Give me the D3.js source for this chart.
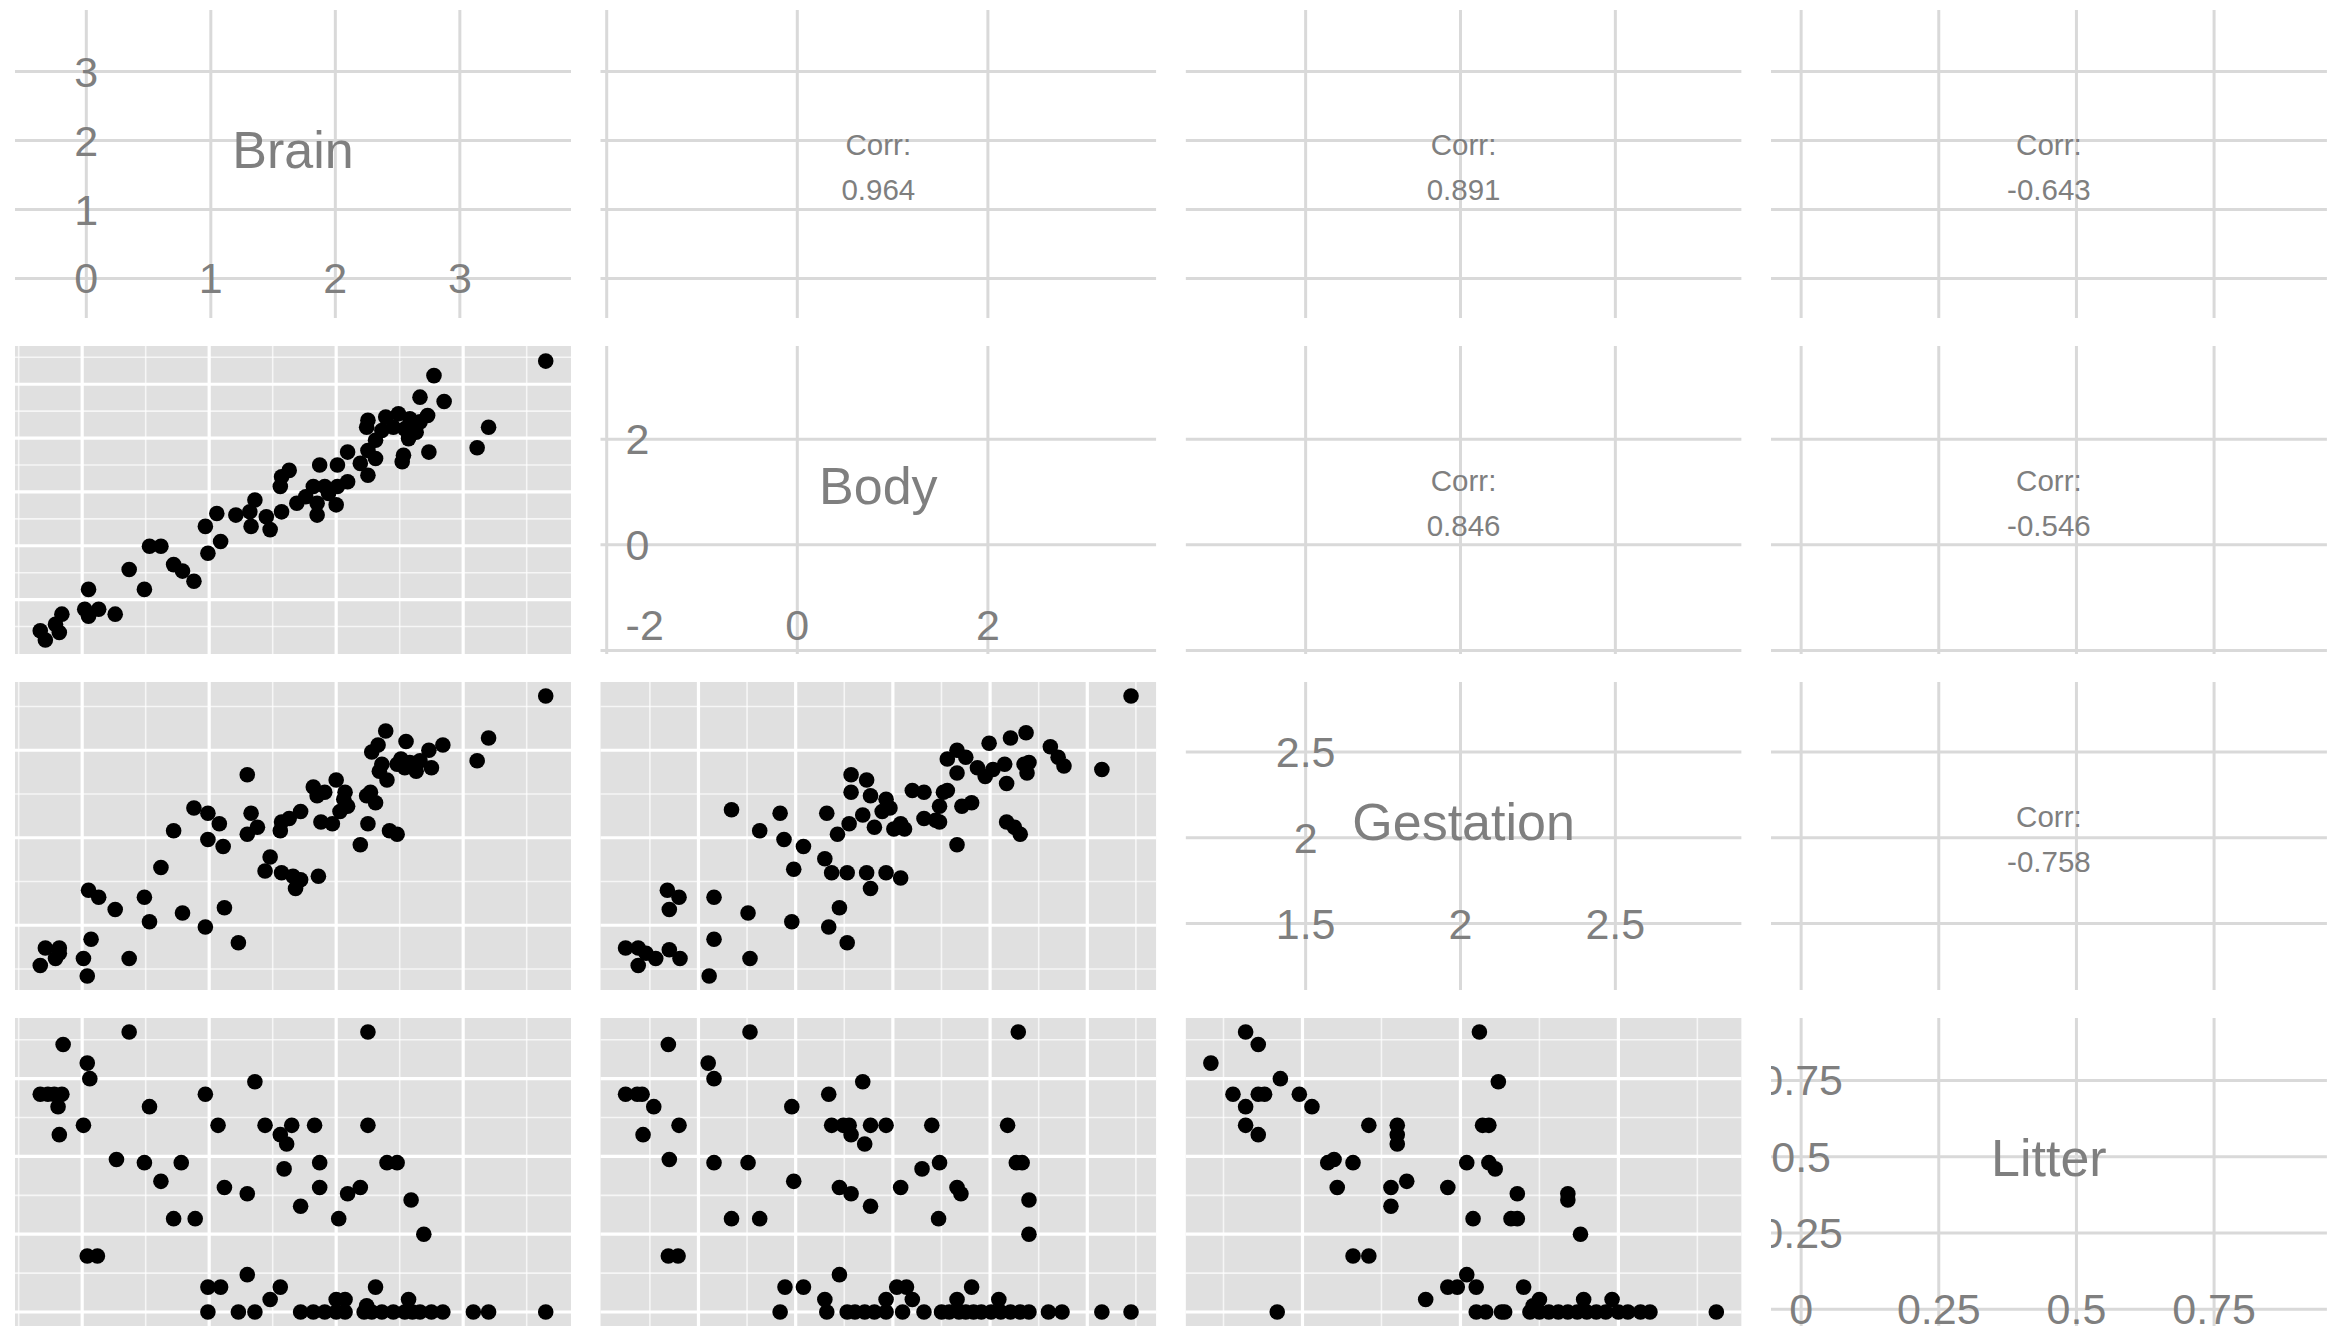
<!DOCTYPE html>
<html lang="en">
<head>
  <title>Mammal pairs</title>
  <meta charset="UTF-8">
  <style>
    body {
      margin: 0;
      background: #fff;
      font-family: "Liberation Sans", Arial, sans-serif;
    }
  </style>
  <script src="https://cdn.jsdelivr.net/npm/d3@7"></script>
</head>
<body>
<script>
  var vars = ["Brain", "Body", "Gestation", "Litter"];

  // upper triangle, row by row: Brain-Body, Brain-Gestation, Brain-Litter, Body-Gestation, Body-Litter, Gestation-Litter
  var corrValues = [0.964, 0.891, -0.643, 0.846, -0.546, -0.758];

  // breaks used on the diagonal / correlation panels and on the scatter panels
  var diagTicks = [[0, 1, 2, 3], [-2, 0, 2], [1.5, 2, 2.5], [0, 0.25, 0.5, 0.75]];
  var scatterTicks = [[0, 1, 2, 3], [-1, 0, 1, 2, 3], [1.5, 2, 2.5], [0, 0.25, 0.5, 0.75]];

  // [x, y] pairs, log10 units
  var brainBody = [[3.65,3.43],[2.77,3.16],[2.66,2.76],[2.85,2.68],[3.20,2.20],[3.11,1.82],[2.73,1.74],[2.53,1.68],[2.52,1.56],[2.25,2.33],[2.24,2.20],[2.39,2.39],[2.49,2.45],[2.58,2.36],[2.66,2.30],[2.72,2.42],[2.45,2.20],[2.54,2.17],[2.63,2.11],[2.57,1.99],[2.36,2.14],[2.31,1.96],[2.25,1.77],[2.31,1.62],[2.19,1.53],[2.09,1.74],[2.01,1.50],[1.87,1.50],[2.25,1.31],[2.09,1.19],[2.01,1.10],[1.94,0.97],[1.85,0.79],[1.85,0.57],[2.00,0.76],[1.76,0.91],[1.63,1.40],[1.57,1.28],[1.56,1.10],[1.57,0.63],[1.45,0.54],[1.69,0.79],[1.36,0.85],[1.32,0.63],[1.21,0.57],[1.33,0.36],[1.48,0.30],[1.06,0.60],[0.97,0.36],[1.09,0.08],[0.99,-0.14],[0.62,-0.01],[0.53,-0.01],[0.72,-0.35],[0.79,-0.47],[0.88,-0.66],[0.37,-0.44],[0.49,-0.81],[0.05,-0.81],[0.02,-1.18],[0.13,-1.18],[0.05,-1.31],[0.26,-1.27],[-0.16,-1.27],[-0.21,-1.46],[-0.18,-1.61],[-0.33,-1.58],[-0.29,-1.75],[1.91,1.10],[1.82,1.10]];

  var brainGestation = [[3.65,2.81],[3.20,2.57],[3.11,2.44],[2.84,2.53],[2.55,2.55],[2.39,2.61],[2.33,2.53],[2.28,2.49],[2.51,2.45],[2.58,2.43],[2.66,2.44],[2.73,2.50],[2.75,2.40],[2.63,2.38],[2.54,2.40],[2.48,2.42],[2.40,2.33],[2.34,2.38],[2.36,2.42],[2.27,2.26],[2.31,2.20],[2.24,2.24],[2.00,2.33],[2.07,2.26],[2.09,2.18],[2.03,2.15],[2.06,2.22],[1.82,2.29],[1.85,2.24],[1.91,2.26],[2.25,2.08],[2.19,1.96],[2.42,2.04],[2.48,2.02],[1.88,2.09],[1.97,2.08],[1.72,2.15],[1.63,2.11],[1.57,2.09],[1.56,2.04],[1.30,2.36],[1.33,2.14],[1.38,2.06],[1.30,2.02],[0.88,2.17],[0.99,2.14],[1.08,2.08],[0.72,2.04],[0.99,1.99],[1.11,1.95],[1.48,1.89],[1.44,1.81],[1.57,1.80],[1.66,1.78],[1.72,1.76],[1.86,1.78],[1.68,1.71],[0.62,1.83],[0.05,1.70],[0.13,1.66],[0.26,1.59],[0.49,1.66],[0.53,1.52],[0.79,1.57],[0.97,1.49],[1.12,1.60],[1.23,1.40],[0.07,1.42],[0.01,1.31],[0.04,1.21],[0.37,1.31],[-0.29,1.37],[-0.18,1.37],[-0.21,1.31],[-0.18,1.34],[-0.33,1.27]];

  var bodyGestation = [[3.45,2.81],[2.37,2.60],[2.21,2.57],[1.99,2.54],[2.62,2.52],[2.70,2.46],[2.76,2.41],[3.15,2.39],[1.66,2.50],[1.56,2.45],[1.75,2.46],[1.66,2.37],[1.87,2.40],[1.95,2.35],[2.03,2.39],[2.15,2.42],[2.17,2.31],[2.35,2.42],[2.38,2.37],[2.40,2.43],[0.57,2.36],[0.73,2.33],[0.57,2.26],[0.77,2.24],[0.93,2.22],[0.89,2.15],[0.97,2.17],[1.20,2.27],[1.32,2.26],[1.52,2.26],[1.56,2.27],[1.48,2.18],[1.71,2.18],[1.81,2.20],[1.32,2.11],[1.44,2.10],[1.48,2.09],[1.08,2.08],[1.12,2.05],[1.01,2.05],[0.69,2.13],[0.55,2.08],[0.81,2.06],[0.43,2.02],[0.32,2.14],[-0.16,2.14],[-0.37,2.04],[-0.12,1.99],[0.08,1.95],[-0.66,2.16],[0.30,1.88],[-0.02,1.82],[0.37,1.80],[0.53,1.80],[0.73,1.80],[0.93,1.80],[1.08,1.77],[0.77,1.71],[2.17,2.09],[2.25,2.06],[2.31,2.02],[1.66,1.96],[-1.32,1.70],[-1.20,1.66],[-1.30,1.59],[-0.84,1.66],[-0.49,1.57],[-0.04,1.52],[0.45,1.60],[0.34,1.49],[0.53,1.40],[-0.84,1.42],[-0.47,1.31],[-0.89,1.21],[-1.75,1.37],[-1.62,1.37],[-1.54,1.34],[-1.44,1.31],[-1.30,1.36],[-1.19,1.31],[-1.62,1.27]];

  var brainLitter = [[-0.15,0.86],[0.37,0.90],[2.25,0.90],[0.04,0.80],[0.06,0.75],[1.36,0.74],[-0.33,0.70],[-0.27,0.70],[-0.22,0.70],[-0.16,0.70],[-0.19,0.66],[0.97,0.70],[0.53,0.66],[0.01,0.60],[-0.18,0.57],[1.07,0.60],[1.44,0.60],[1.65,0.60],[1.83,0.60],[2.25,0.60],[1.56,0.57],[1.61,0.54],[0.27,0.49],[0.49,0.48],[0.78,0.48],[1.59,0.46],[1.87,0.48],[2.40,0.48],[2.48,0.48],[0.62,0.42],[1.12,0.40],[1.30,0.38],[1.87,0.40],[2.09,0.38],[2.19,0.40],[2.59,0.36],[1.72,0.34],[0.72,0.30],[0.89,0.30],[2.02,0.30],[2.69,0.25],[0.04,0.18],[0.12,0.18],[1.30,0.12],[0.99,0.08],[1.09,0.08],[1.56,0.08],[1.48,0.04],[2.31,0.08],[2.00,0.04],[2.07,0.04],[2.57,0.04],[2.24,0.02],[0.99,0],[1.23,0],[1.36,0],[1.72,0],[1.82,0],[1.91,0],[2.00,0],[2.07,0],[2.22,0],[2.28,0],[2.36,0],[2.45,0],[2.54,0],[2.60,0],[2.66,0],[2.75,0],[2.84,0],[3.08,0],[3.20,0],[3.65,0]];

  var bodyLitter = [[-0.47,0.90],[2.29,0.90],[-1.31,0.86],[-0.90,0.80],[-0.84,0.75],[0.69,0.74],[-1.75,0.70],[-1.63,0.70],[-1.58,0.70],[0.34,0.70],[-1.46,0.66],[-0.04,0.66],[-1.20,0.60],[-1.57,0.57],[0.37,0.60],[0.49,0.60],[0.55,0.60],[0.77,0.60],[0.93,0.60],[1.40,0.60],[2.18,0.60],[0.57,0.57],[0.71,0.54],[-1.30,0.49],[-0.84,0.48],[-0.49,0.48],[1.30,0.46],[1.48,0.48],[2.27,0.48],[2.33,0.48],[-0.02,0.42],[0.45,0.40],[0.57,0.38],[1.08,0.40],[1.66,0.40],[1.70,0.38],[2.40,0.36],[0.77,0.34],[-0.66,0.30],[-0.37,0.30],[1.47,0.30],[2.40,0.25],[-1.31,0.18],[-1.21,0.18],[0.45,0.12],[-0.11,0.08],[0.08,0.08],[1.04,0.08],[1.14,0.08],[1.81,0.08],[0.30,0.04],[0.93,0.04],[1.20,0.04],[1.66,0.04],[2.09,0.04],[-0.16,0],[0.32,0],[0.53,0],[0.61,0],[0.71,0],[0.81,0],[0.93,0],[1.10,0],[1.32,0],[1.50,0],[1.58,0],[1.68,0],[1.75,0],[1.83,0],[1.91,0],[2.01,0],[2.11,0],[2.21,0],[2.31,0],[2.40,0],[2.60,0],[2.74,0],[3.15,0],[3.45,0]];

  var gestationLitter = [[1.32,0.90],[1.36,0.86],[1.21,0.80],[1.43,0.75],[2.06,0.90],[2.12,0.74],[1.28,0.70],[1.36,0.70],[1.38,0.70],[1.32,0.66],[1.49,0.70],[1.53,0.66],[1.32,0.60],[1.36,0.57],[1.71,0.60],[1.80,0.60],[1.80,0.57],[1.80,0.54],[2.07,0.60],[2.09,0.60],[1.58,0.48],[1.60,0.49],[1.66,0.48],[2.02,0.48],[2.09,0.48],[2.11,0.46],[1.61,0.40],[1.78,0.40],[1.83,0.42],[1.96,0.40],[1.78,0.34],[2.18,0.38],[2.34,0.38],[2.34,0.36],[2.04,0.30],[2.16,0.30],[2.18,0.30],[2.38,0.25],[1.66,0.18],[1.71,0.18],[2.02,0.12],[1.96,0.08],[1.99,0.08],[2.05,0.08],[2.20,0.08],[1.89,0.04],[2.25,0.04],[2.39,0.04],[2.48,0.04],[2.23,0.02],[1.42,0],[2.05,0],[2.08,0],[2.13,0],[2.14,0],[2.22,0],[2.25,0],[2.28,0],[2.31,0],[2.34,0],[2.37,0],[2.40,0],[2.43,0],[2.46,0],[2.50,0],[2.53,0],[2.57,0],[2.60,0],[2.81,0]];

  var scatters = [
    {row: 1, col: 0, pts: brainBody},
    {row: 2, col: 0, pts: brainGestation},
    {row: 2, col: 1, pts: bodyGestation},
    {row: 3, col: 0, pts: brainLitter},
    {row: 3, col: 1, pts: bodyLitter},
    {row: 3, col: 2, pts: gestationLitter}
  ];

  var W = 2333, H = 1330;
  var panelLeft = 15, panelTop = 10, panelW = 556, panelH = 308, gapX = 29.3, gapY = 28;
  var grey = "#7f7f7f";

  // data range of each variable, over every panel it appears in
  var extents = vars.map(function(v, k) {
    var vals = [];
    scatters.forEach(function(s) {
      s.pts.forEach(function(p) {
        if (s.col === k) vals.push(p[0]);
        if (s.row === k) vals.push(p[1]);
      });
    });
    return d3.extent(vals);
  });

  function padded(ext, f) {
    var r = ext[1] - ext[0];
    return [ext[0] - f * r, ext[1] + f * r];
  }

  // scatter panels: range + 5%; diagonal/cor panels: range +-1% then + 5%
  var scatterDomain = extents.map(function(e) { return padded(e, 0.05); });
  var diagRange = extents.map(function(e) { return padded(e, 0.01); });
  var diagDomain = diagRange.map(function(e) { return padded(e, 0.05); });

  function minorBreaks(b, dom) {
    var step = b[1] - b[0];
    var all = [b[0] - step].concat(b, [b[b.length - 1] + step]);
    var out = [];
    for (var k = 0; k < all.length - 1; k++) out.push((all[k] + all[k + 1]) / 2);
    return out.filter(function(v) { return v >= dom[0] && v <= dom[1]; });
  }

  var svg = d3.select("body").append("svg")
    .attr("width", W)
    .attr("height", H);

  function gridLines(g, x, y, xs, ys, color, width, opacity) {
    g.append("g").selectAll("line").data(xs).enter().append("line")
      .attr("x1", function(d) { return x(d); })
      .attr("x2", function(d) { return x(d); })
      .attr("y1", 0).attr("y2", panelH)
      .attr("stroke", color).attr("stroke-width", width).attr("stroke-opacity", opacity);
    g.append("g").selectAll("line").data(ys).enter().append("line")
      .attr("y1", function(d) { return y(d); })
      .attr("y2", function(d) { return y(d); })
      .attr("x1", 0).attr("x2", panelW)
      .attr("stroke", color).attr("stroke-width", width).attr("stroke-opacity", opacity);
  }

  function drawScatter(g, i, j) {
    var x = d3.scaleLinear().domain(scatterDomain[j]).range([0, panelW]);
    var y = d3.scaleLinear().domain(scatterDomain[i]).range([panelH, 0]);
    var s = scatters.find(function(d) { return d.row === i && d.col === j; });

    g.append("rect").attr("width", panelW).attr("height", panelH).attr("fill", "#e0e0e0");
    gridLines(g, x, y, minorBreaks(scatterTicks[j], x.domain()), minorBreaks(scatterTicks[i], y.domain()), "#fff", 1.6, 0.7);
    gridLines(g, x, y, scatterTicks[j], scatterTicks[i], "#fff", 3.2, 1);

    g.append("g").selectAll("circle").data(s.pts).enter().append("circle")
      .attr("cx", function(d) { return x(d[0]); })
      .attr("cy", function(d) { return y(d[1]); })
      .attr("r", 7.8)
      .attr("fill", "#000");
  }

  function drawDiag(g, i, j) {
    var x = d3.scaleLinear().domain(diagDomain[j]).range([0, panelW]);
    var y = d3.scaleLinear().domain(diagDomain[i]).range([panelH, 0]);
    gridLines(g, x, y, diagTicks[j], diagTicks[i], "#d9d9d9", 3, 1);

    if (i === j) {
      var rng = diagRange[i];
      g.append("text")
        .attr("x", x(rng[0] + 0.5 * (rng[1] - rng[0])))
        .attr("y", y(rng[0] + 0.55 * (rng[1] - rng[0])))
        .attr("text-anchor", "middle")
        .attr("dominant-baseline", "central")
        .attr("font-size", 52)
        .attr("fill", grey)
        .text(vars[i]);

      // axis labels drawn inside the panel, along the first break
      var b = diagTicks[i];
      var labs = b.map(function(v) { return {x: b[0], y: v}; })
        .concat(b.slice(1).map(function(v) { return {x: v, y: b[0]}; }));
      labs.forEach(function(l) {
        var lx = l.x, ly = l.y, anchor = "middle", base = "central";
        var lab = l.x === b[0] ? l.y : l.x;
        if (lx < rng[0]) { lx = rng[0]; anchor = "start"; }
        if (lx > rng[1]) { lx = rng[1]; anchor = "end"; }
        if (ly < rng[0]) { ly = rng[0]; base = "alphabetic"; }
        if (ly > rng[1]) { ly = rng[1]; base = "hanging"; }
        g.append("text")
          .attr("x", x(lx))
          .attr("y", y(ly))
          .attr("text-anchor", anchor)
          .attr("dominant-baseline", base)
          .attr("font-size", 43)
          .attr("fill", grey)
          .text(String(lab));
      });
    } else {
      var idx = i === 0 ? j - 1 : (i === 1 ? j + 1 : 5);
      g.append("text")
        .attr("x", panelW / 2).attr("y", panelH / 2 - 20)
        .attr("text-anchor", "middle").attr("dominant-baseline", "central")
        .attr("font-size", 29.5).attr("fill", grey)
        .text("Corr:");
      g.append("text")
        .attr("x", panelW / 2).attr("y", panelH / 2 + 25)
        .attr("text-anchor", "middle").attr("dominant-baseline", "central")
        .attr("font-size", 29.5).attr("fill", grey)
        .text(corrValues[idx].toFixed(3));
    }
  }

  vars.forEach(function(rowVar, i) {
    vars.forEach(function(colVar, j) {
      var g = svg.append("g")
        .attr("transform", "translate(" + (panelLeft + j * (panelW + gapX)) + "," + (panelTop + i * (panelH + gapY)) + ")");
      var clipId = "clip-" + i + "-" + j;
      g.append("clipPath").attr("id", clipId)
        .append("rect").attr("width", panelW).attr("height", panelH);
      var inner = g.append("g").attr("clip-path", "url(#" + clipId + ")");
      if (i > j) drawScatter(inner, i, j);
      else drawDiag(inner, i, j);
    });
  });
</script>
</body>
</html>
